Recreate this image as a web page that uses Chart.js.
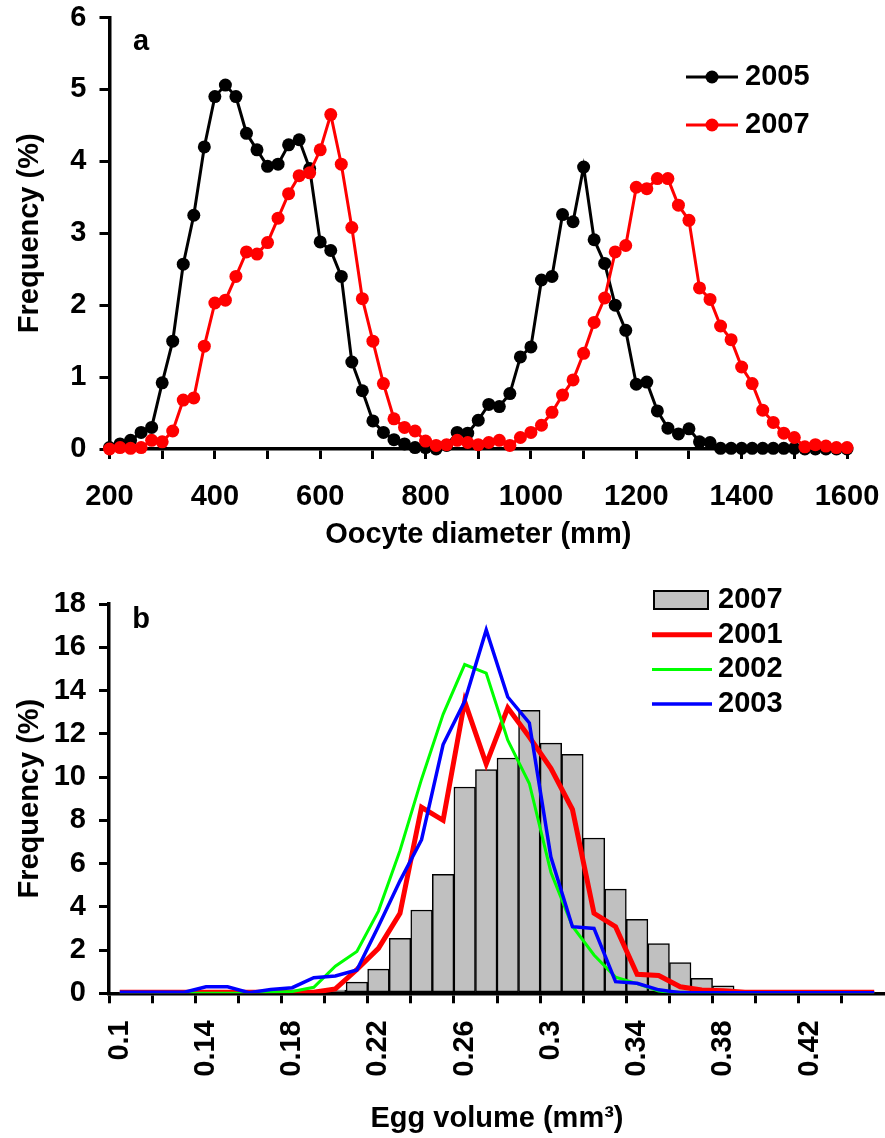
<!DOCTYPE html>
<html lang="en">
<head>
    <meta charset="UTF-8">
    <title>Oocyte diameter and egg volume</title>
    <script src="https://cdn.jsdelivr.net/npm/chart.js"></script>
    <style>
        body {
            margin: 0;
            padding: 0;
            background: #fff;
        }
        .panel {
            position: absolute;
            left: 0;
            width: 885px;
        }
        #panelA { top: 0; height: 560px; }
        #panelB { top: 570px; height: 568px; }
    </style>
</head>
<body>
    <div class="panel" id="panelA"><canvas id="chartA" width="885" height="560"></canvas></div>
    <div class="panel" id="panelB"><canvas id="chartB" width="885" height="568"></canvas></div>

    <script>
        // panel a: oocyte diameter (mm) vs frequency (%)
        const diameters = [200, 220, 240, 260, 280, 300, 320, 340, 360, 380,
            400, 420, 440, 460, 480, 500, 520, 540, 560, 580,
            600, 620, 640, 660, 680, 700, 720, 740, 760, 780,
            800, 820, 840, 860, 880, 900, 920, 940, 960, 980,
            1000, 1020, 1040, 1060, 1080, 1100, 1120, 1140, 1160, 1180,
            1200, 1220, 1240, 1260, 1280, 1300, 1320, 1340, 1360, 1380,
            1400, 1420, 1440, 1460, 1480, 1500, 1520, 1540, 1560, 1580,
            1600];
        const freq2005 = [0.02, 0.07, 0.12, 0.23, 0.30, 0.92, 1.50, 2.57, 3.25, 4.20,
            4.90, 5.06, 4.90, 4.39, 4.16, 3.93, 3.96, 4.23, 4.30, 3.90,
            2.88, 2.76, 2.40, 1.21, 0.81, 0.39, 0.23, 0.13, 0.07, 0.02,
            0.02, 0.00, 0.05, 0.23, 0.22, 0.40, 0.62, 0.59, 0.77, 1.28,
            1.42, 2.35, 2.40, 3.26, 3.16, 3.92, 2.91, 2.58, 2.00, 1.65,
            0.90, 0.93, 0.53, 0.29, 0.21, 0.28, 0.10, 0.09, 0.01, 0.01,
            0.01, 0.01, 0.01, 0.01, 0.01, 0.01, 0.00, 0.00, 0.00, 0.00,
            0.00];
        const freq2007 = [0.00, 0.02, 0.01, 0.02, 0.12, 0.10, 0.25, 0.68, 0.71, 1.43,
            2.03, 2.07, 2.40, 2.74, 2.71, 2.87, 3.21, 3.55, 3.80, 3.84,
            4.16, 4.65, 3.96, 3.08, 2.09, 1.50, 0.91, 0.42, 0.30, 0.25,
            0.11, 0.05, 0.06, 0.12, 0.09, 0.06, 0.09, 0.12, 0.05, 0.16,
            0.23, 0.33, 0.51, 0.75, 0.96, 1.33, 1.76, 2.10, 2.74, 2.83,
            3.64, 3.62, 3.76, 3.76, 3.39, 3.18, 2.24, 2.08, 1.71, 1.52,
            1.14, 0.91, 0.54, 0.37, 0.22, 0.16, 0.03, 0.06, 0.04, 0.02,
            0.02];

        // panel b: egg volume (mm3) classes vs frequency (%)
        const volumeLabels = ['0.1', '0.11', '0.12', '0.13', '0.14', '0.15', '0.16', '0.17', '0.18', '0.19',
            '0.2', '0.21', '0.22', '0.23', '0.24', '0.25', '0.26', '0.27', '0.28', '0.29',
            '0.3', '0.31', '0.32', '0.33', '0.34', '0.35', '0.36', '0.37', '0.38', '0.39',
            '0.4', '0.41', '0.42', '0.43', '0.44', '0.45'];
        const bars2007 = [0, 0, 0, 0, 0, 0, 0, 0, 0, 0,
            0.15, 0.52, 1.12, 2.54, 3.85, 5.50, 9.54, 10.34, 10.88, 13.08,
            11.57, 11.05, 7.18, 4.82, 3.42, 2.30, 1.42, 0.69, 0.34, 0,
            0, 0, 0, 0, 0, 0];
        const line2001 = [0.05, 0.05, 0.05, 0.05, 0.05, 0.05, 0.05, 0.05, 0.05, 0.05,
            0.2, 1.1, 2.08, 3.7, 8.6, 8.0, 13.5, 10.6, 13.2, 11.85,
            10.4, 8.5, 3.7, 3.08, 0.88, 0.82, 0.3, 0.15, 0.12, 0.05,
            0.05, 0.05, 0.05, 0.05, 0.05, 0.05];
        const line2002 = [0, 0, 0, 0, 0, 0, 0, 0.05, 0.08, 0.28,
            1.25, 1.93, 3.8, 6.6, 9.9, 12.9, 15.2, 14.8, 11.7, 9.7,
            5.6, 3.1, 1.77, 0.75, 0.45, 0.1, 0, 0, 0, 0,
            0, 0, 0, 0, 0, 0];
        const line2003 = [0.05, 0.05, 0.05, 0.05, 0.3, 0.3, 0.03, 0.18, 0.26, 0.72,
            0.8, 1.08, 3.1, 5.2, 7.1, 11.5, 13.5, 16.8, 13.7, 12.5,
            6.3, 3.08, 3.0, 0.54, 0.46, 0.16, 0.03, 0.03, 0.03, 0.03,
            0.03, 0.03, 0.03, 0.03, 0.03, 0.03];

        const FONT = '"Liberation Sans", Arial, sans-serif';
        Chart.defaults.font.family = FONT;
        Chart.defaults.font.size = 29;
        Chart.defaults.font.weight = 'bold';
        Chart.defaults.color = '#000';

        // legend + panel letter drawn inside the plot
        const panelLegend = {
            id: 'panelLegend',
            afterDraw(chart, args, opts) {
                const ctx = chart.ctx;
                ctx.save();
                ctx.font = 'bold 29px ' + FONT;
                ctx.fillStyle = '#000';
                ctx.textBaseline = 'middle';
                ctx.textAlign = 'center';
                ctx.fillText(opts.tag, opts.tagX, opts.tagY);
                ctx.textAlign = 'left';
                opts.order.forEach((di, row) => {
                    const ds = chart.data.datasets[di];
                    const y = opts.y + row * opts.rowH;
                    if (ds.type === 'bar') {
                        ctx.fillStyle = ds.backgroundColor;
                        ctx.fillRect(opts.boxX, y - 9, opts.boxW, 18);
                        ctx.strokeStyle = ds.borderColor;
                        ctx.lineWidth = 2;
                        ctx.strokeRect(opts.boxX, y - 9, opts.boxW, 18);
                    } else {
                        ctx.strokeStyle = ds.borderColor;
                        ctx.lineWidth = ds.borderWidth;
                        ctx.beginPath();
                        ctx.moveTo(opts.lineX, y);
                        ctx.lineTo(opts.lineX + opts.lineW, y);
                        ctx.stroke();
                        if (ds.pointRadius > 0) {
                            ctx.fillStyle = ds.pointBackgroundColor;
                            ctx.beginPath();
                            ctx.arc(opts.lineX + opts.lineW / 2, y, ds.pointRadius, 0, Math.PI * 2);
                            ctx.fill();
                        }
                    }
                    ctx.fillStyle = '#000';
                    ctx.fillText(ds.label, opts.textX, y);
                });
                ctx.restore();
            }
        };

        const axisGrid = {
            drawOnChartArea: false,
            color: '#000',
            lineWidth: 3,
            tickLength: 10
        };
        const axisBorder = { display: true, color: '#000', width: 3.5 };

        // keep the plot box where the figure has it (labels may overhang)
        function fixX(h) {
            return (s) => { s.height = h; s.paddingLeft = 0; s.paddingRight = 0; };
        }
        function fixY(w) {
            return (s) => { s.width = w; s.paddingTop = 0; s.paddingBottom = 0; };
        }

        new Chart(document.getElementById('chartA'), {
            type: 'line',
            data: {
                datasets: [
                    {
                        label: '2005',
                        data: diameters.map((d, i) => ({ x: d, y: freq2005[i] })),
                        borderColor: '#000',
                        backgroundColor: '#000',
                        pointBackgroundColor: '#000',
                        borderWidth: 3,
                        pointRadius: 6.5,
                        pointBorderWidth: 0,
                        tension: 0,
                        clip: false,
                        order: 2
                    },
                    {
                        label: '2007',
                        data: diameters.map((d, i) => ({ x: d, y: freq2007[i] })),
                        borderColor: '#ff0000',
                        backgroundColor: '#ff0000',
                        pointBackgroundColor: '#ff0000',
                        borderWidth: 3,
                        pointRadius: 6.5,
                        pointBorderWidth: 0,
                        tension: 0,
                        clip: false,
                        order: 1
                    }
                ]
            },
            options: {
                responsive: false,
                animation: false,
                layout: { padding: { left: 0, top: 17.5, right: 38, bottom: 0 } },
                scales: {
                    x: {
                        type: 'linear',
                        min: 200,
                        max: 1600,
                        afterFit: fixX(111),
                        grid: axisGrid,
                        border: axisBorder,
                        ticks: {
                            stepSize: 100,
                            autoSkip: false,
                            maxRotation: 0,
                            padding: 21,
                            callback: (v) => (v % 200 === 0 ? v : '')
                        },
                        title: {
                            display: true,
                            text: 'Oocyte diameter (mm)',
                            padding: { top: 0, bottom: 8 }
                        }
                    },
                    y: {
                        min: 0,
                        max: 6,
                        afterFit: fixY(109.5),
                        grid: axisGrid,
                        border: axisBorder,
                        ticks: { stepSize: 1, padding: 13 },
                        title: {
                            display: true,
                            text: 'Frequency (%)',
                            padding: { top: 12.5, bottom: 0 }
                        }
                    }
                },
                plugins: {
                    legend: { display: false },
                    tooltip: { enabled: false },
                    panelLegend: {
                        tag: 'a', tagX: 141, tagY: 42,
                        order: [0, 1],
                        y: 77, rowH: 48,
                        lineX: 686, lineW: 52, textX: 745
                    }
                }
            },
            plugins: [panelLegend]
        });

        new Chart(document.getElementById('chartB'), {
            type: 'bar',
            data: {
                labels: volumeLabels,
                datasets: [
                    {
                        type: 'bar',
                        label: '2007',
                        data: bars2007,
                        backgroundColor: '#c0c0c0',
                        borderColor: '#000',
                        borderWidth: 1.5,
                        borderSkipped: false,
                        barPercentage: 1,
                        categoryPercentage: 1,
                        order: 4
                    },
                    {
                        type: 'line',
                        label: '2001',
                        data: line2001,
                        borderColor: '#ff0000',
                        borderWidth: 5,
                        pointRadius: 0,
                        tension: 0,
                        order: 3
                    },
                    {
                        type: 'line',
                        label: '2002',
                        data: line2002,
                        borderColor: '#00ff00',
                        borderWidth: 3,
                        pointRadius: 0,
                        tension: 0,
                        order: 2
                    },
                    {
                        type: 'line',
                        label: '2003',
                        data: line2003,
                        borderColor: '#0000ff',
                        borderWidth: 3.5,
                        pointRadius: 0,
                        tension: 0,
                        order: 1
                    }
                ]
            },
            options: {
                responsive: false,
                animation: false,
                layout: { padding: { left: 0, top: 34, right: 0, bottom: 0 } },
                scales: {
                    x: {
                        type: 'category',
                        offset: true,
                        afterFit: fixX(144.7),
                        grid: {
                            offset: true,
                            drawOnChartArea: false,
                            lineWidth: 3,
                            tickLength: 10,
                            color: (c) => (c.index % 2 === 0 ? '#000' : 'rgba(0,0,0,0)')
                        },
                        border: axisBorder,
                        ticks: {
                            autoSkip: false,
                            minRotation: 90,
                            maxRotation: 90,
                            padding: 17,
                            callback: (v, i) => (i % 4 === 0 ? volumeLabels[i] : '')
                        },
                        title: {
                            display: true,
                            text: 'Egg volume (mm³)',
                            padding: { top: 0, bottom: 2 }
                        }
                    },
                    y: {
                        min: 0,
                        max: 18,
                        afterFit: fixY(109),
                        grid: axisGrid,
                        border: axisBorder,
                        ticks: { stepSize: 2, padding: 13 },
                        title: {
                            display: true,
                            text: 'Frequency (%)',
                            padding: { top: 12.5, bottom: 0 }
                        }
                    }
                },
                plugins: {
                    legend: { display: false },
                    tooltip: { enabled: false },
                    panelLegend: {
                        tag: 'b', tagX: 141, tagY: 50,
                        order: [0, 1, 2, 3],
                        y: 30, rowH: 34.7,
                        boxX: 654, boxW: 54,
                        lineX: 652, lineW: 60, textX: 718
                    }
                }
            },
            plugins: [panelLegend]
        });
    </script>
</body>
</html>
